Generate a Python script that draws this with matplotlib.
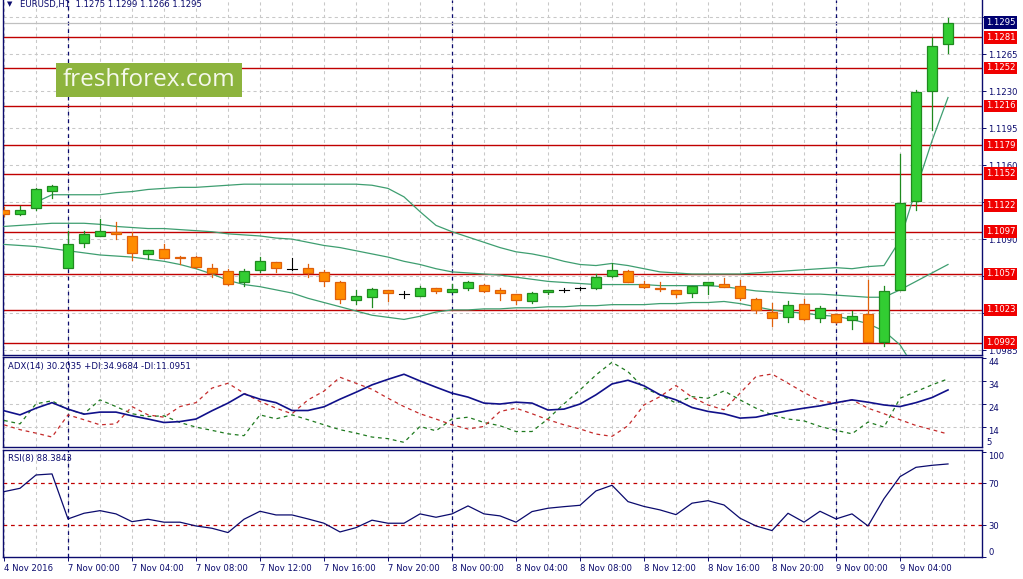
import matplotlib
matplotlib.use("Agg")
import matplotlib.pyplot as plt
import matplotlib.transforms as mtransforms
from matplotlib.patches import Rectangle

# EURUSD H1, bars numbered from 7 Nov 00:00 (bar 0)
bars = list(range(-4, 56))
opens = [1.1118, 1.1114, 1.1119, 1.1136, 1.1063, 1.1086, 1.1093, 1.1097, 1.1093, 1.1076,
         1.1081, 1.1073, 1.1073, 1.1063, 1.1060, 1.1049, 1.1061, 1.1068, 1.1062, 1.1063,
         1.1059, 1.1049, 1.1032, 1.1035, 1.1042, 1.1038, 1.1036, 1.1044, 1.1040, 1.1044,
         1.1047, 1.1042, 1.1038, 1.1031, 1.1040, 1.1042, 1.1044, 1.1044, 1.1055, 1.1060,
         1.1048, 1.1044, 1.1042, 1.1039, 1.1047, 1.1048, 1.1046, 1.1033, 1.1021, 1.1016,
         1.1029, 1.1015, 1.1019, 1.1013, 1.1019, 1.0993, 1.1042, 1.1126, 1.1230, 1.1275]
highs = [1.1120, 1.1121, 1.1138, 1.1141, 1.1098, 1.1098, 1.1109, 1.1106, 1.1097, 1.1080,
         1.1085, 1.1074, 1.1074, 1.1066, 1.1062, 1.1062, 1.1073, 1.1068, 1.1072, 1.1066,
         1.1061, 1.1050, 1.1042, 1.1044, 1.1042, 1.1041, 1.1046, 1.1044, 1.1048, 1.1050,
         1.1048, 1.1044, 1.1038, 1.1040, 1.1042, 1.1044, 1.1045, 1.1057, 1.1067, 1.1061,
         1.1050, 1.1049, 1.1042, 1.1046, 1.1049, 1.1053, 1.1051, 1.1034, 1.1030, 1.1031,
         1.1033, 1.1027, 1.1019, 1.1022, 1.1051, 1.1046, 1.1171, 1.1231, 1.1280, 1.1299]
lows = [1.1112, 1.1113, 1.1118, 1.1129, 1.1063, 1.1083, 1.1093, 1.1090, 1.1070, 1.1071,
        1.1072, 1.1066, 1.1063, 1.1054, 1.1047, 1.1046, 1.1059, 1.1059, 1.1061, 1.1054,
        1.1046, 1.1030, 1.1029, 1.1026, 1.1031, 1.1034, 1.1036, 1.1039, 1.1040, 1.1042,
        1.1040, 1.1032, 1.1029, 1.1030, 1.1038, 1.1040, 1.1042, 1.1043, 1.1054, 1.1049,
        1.1044, 1.1041, 1.1035, 1.1035, 1.1038, 1.1045, 1.1032, 1.1020, 1.1008, 1.1012,
        1.1013, 1.1012, 1.1011, 1.1005, 1.0993, 1.0989, 1.1042, 1.1118, 1.1193, 1.1266]
closes = [1.1114, 1.1118, 1.1137, 1.1140, 1.1085, 1.1095, 1.1098, 1.1095, 1.1077, 1.1080,
          1.1072, 1.1072, 1.1064, 1.1058, 1.1048, 1.1060, 1.1069, 1.1063, 1.1062, 1.1058,
          1.1050, 1.1033, 1.1036, 1.1043, 1.1039, 1.1038, 1.1044, 1.1041, 1.1043, 1.1049,
          1.1041, 1.1039, 1.1032, 1.1039, 1.1042, 1.1042, 1.1044, 1.1054, 1.1061, 1.1049,
          1.1045, 1.1043, 1.1038, 1.1046, 1.1049, 1.1045, 1.1034, 1.1023, 1.1015, 1.1028,
          1.1014, 1.1025, 1.1012, 1.1017, 1.0993, 1.1041, 1.1124, 1.1229, 1.1273, 1.1295]

# Bollinger bands
bb_upper_bars = list(range(-2, 56))
bb_upper = [1.1125, 1.1132, 1.1132, 1.1132, 1.1132, 1.1134, 1.1135, 1.1137, 1.1138, 1.1139,
            1.1139, 1.1140, 1.1141, 1.1142, 1.1142, 1.1142, 1.1142, 1.1142, 1.1142, 1.1142,
            1.1142, 1.1141, 1.1138, 1.1130, 1.1116, 1.1103, 1.1097, 1.1092, 1.1087, 1.1082,
            1.1078, 1.1076, 1.1073, 1.1069, 1.1066, 1.1065, 1.1067, 1.1065, 1.1062, 1.1059,
            1.1058, 1.1057, 1.1057, 1.1057, 1.1057, 1.1058, 1.1059, 1.1060, 1.1061, 1.1062,
            1.1063, 1.1062, 1.1064, 1.1065, 1.1089, 1.1137, 1.1183, 1.1224]
bb_middle = [1.1102, 1.1103, 1.1104, 1.1105, 1.1105, 1.1105, 1.1104, 1.1102, 1.1101, 1.1100,
             1.1100, 1.1099, 1.1098, 1.1097, 1.1095, 1.1094, 1.1093, 1.1091, 1.1090, 1.1087,
             1.1084, 1.1082, 1.1079, 1.1076, 1.1073, 1.1069, 1.1066, 1.1062, 1.1059, 1.1058,
             1.1057, 1.1056, 1.1054, 1.1052, 1.1050, 1.1049, 1.1048, 1.1047, 1.1047, 1.1047,
             1.1047, 1.1046, 1.1046, 1.1046, 1.1046, 1.1045, 1.1043, 1.1041, 1.1040, 1.1039,
             1.1038, 1.1038, 1.1037, 1.1036, 1.1035, 1.1035, 1.1042, 1.1050, 1.1058, 1.1066]
bb_lower = [1.1085, 1.1084, 1.1083, 1.1081, 1.1079, 1.1077, 1.1075, 1.1074, 1.1073, 1.1071,
            1.1069, 1.1066, 1.1062, 1.1057, 1.1051, 1.1047, 1.1045, 1.1042, 1.1039, 1.1034,
            1.1030, 1.1026, 1.1022, 1.1018, 1.1016, 1.1014, 1.1017, 1.1021, 1.1023, 1.1023,
            1.1024, 1.1024, 1.1025, 1.1025, 1.1026, 1.1026, 1.1027, 1.1027, 1.1028, 1.1028,
            1.1028, 1.1029, 1.1029, 1.1030, 1.1030, 1.1031, 1.1029, 1.1026, 1.1023, 1.1021,
            1.1020, 1.1018, 1.1017, 1.1014, 1.1010, 1.1003, 1.0990, 1.0966, 1.0938, 1.0909]

levels = [1.1281, 1.1252, 1.1216, 1.1179, 1.1152, 1.1122, 1.1097, 1.1057, 1.1023, 1.0992]
last_price = 1.1295
price_ticks = [1.0985, 1.1020, 1.1055, 1.1090, 1.1125, 1.1160, 1.1195, 1.1230, 1.1265, 1.1300]
# these scale labels sit under the level / price boxes on the chart
hidden_ticks = [1.1020, 1.1055, 1.1125, 1.1300]

adx = [21.2, 19.4, 22.3, 24.7, 21.9, 19.7, 20.6, 20.6, 19.0, 17.6,
       16.1, 16.5, 17.6, 21.2, 24.5, 28.5, 26.2, 24.7, 21.3, 21.3,
       22.9, 26.2, 29.2, 32.4, 34.8, 37.0, 34.1, 31.4, 28.8, 27.1,
       24.5, 24.1, 24.9, 24.5, 21.5, 21.9, 24.1, 28.1, 32.8, 34.4,
       32.0, 28.1, 25.9, 22.6, 20.9, 19.9, 18.0, 18.4, 19.9, 21.2,
       22.3, 23.3, 24.7, 25.9, 24.9, 23.7, 23.0, 24.7, 26.9, 30.2]
plus_di = [17.0, 15.5, 24.2, 25.5, 21.6, 19.9, 25.9, 23.0, 19.9, 18.7,
           19.0, 16.1, 14.1, 12.7, 11.2, 10.4, 19.4, 17.7, 19.4, 17.3,
           15.1, 13.0, 11.5, 9.8, 9.1, 7.5, 14.4, 12.5, 17.6, 18.4,
           16.1, 14.7, 12.2, 12.2, 17.7, 24.2, 30.2, 36.7, 42.2, 38.1,
           31.0, 28.1, 24.5, 27.3, 26.6, 29.8, 25.9, 22.3, 19.4, 17.6,
           16.8, 14.4, 12.7, 11.2, 16.3, 14.1, 26.6, 29.5, 32.4, 35.0]
minus_di = [15.1, 13.0, 11.5, 9.8, 19.4, 17.3, 15.1, 15.5, 23.0, 19.4,
            18.4, 23.0, 24.7, 31.0, 33.1, 28.8, 25.2, 22.3, 19.9, 25.9,
            29.7, 35.7, 33.1, 30.5, 26.6, 23.0, 19.9, 17.6, 15.1, 13.3,
            14.4, 20.9, 22.3, 19.9, 17.3, 15.1, 13.3, 11.1, 10.1, 14.7,
            23.7, 27.3, 32.1, 27.1, 23.7, 21.6, 28.8, 36.0, 37.1, 33.1,
            29.1, 25.5, 24.5, 25.9, 22.3, 19.9, 17.3, 14.8, 13.0, 11.1]
rsi = [62.0, 65.2, 77.9, 78.9, 36.0, 41.4, 43.9, 40.8, 33.4, 35.7,
       32.9, 32.9, 29.3, 27.1, 23.0, 35.7, 43.3, 39.8, 39.8, 36.0,
       31.9, 23.6, 27.7, 34.8, 31.9, 31.9, 40.8, 37.6, 40.8, 48.4,
       40.8, 38.9, 32.9, 43.0, 46.2, 47.7, 49.0, 62.7, 68.1, 52.5,
       47.9, 44.6, 40.1, 51.0, 53.4, 49.3, 36.7, 29.3, 24.9, 41.4,
       32.9, 43.3, 36.0, 40.8, 29.3, 55.3, 76.3, 85.2, 87.1, 88.4]

date_ticks = [-4, 0, 4, 8, 12, 16, 20, 24, 28, 32, 36, 40, 44, 48, 52]
date_labels = ["4 Nov 2016", "7 Nov 00:00", "7 Nov 04:00", "7 Nov 08:00", "7 Nov 12:00",
               "7 Nov 16:00", "7 Nov 20:00", "8 Nov 00:00", "8 Nov 04:00", "8 Nov 08:00",
               "8 Nov 12:00", "8 Nov 16:00", "8 Nov 20:00", "9 Nov 00:00", "9 Nov 04:00"]
day_starts = [0, 24, 48]

NAVY = "#0b0b6e"
GRID = "#c8c8c8"
LVL = "#c00000"
BB = "#3e9e70"
FS = 6.1

W, H = 1023, 579
fig = plt.figure(figsize=(W / 100, H / 100), dpi=100)
fig.patch.set_facecolor("white")


def px_axes(x0, y0, x1, y1):
    return fig.add_axes([x0 / W, 1 - y1 / H, (x1 - x0) / W, (y1 - y0) / H])


ax = px_axes(3, 0, 982, 355)
ax_adx = px_axes(3, 357, 982, 447)
ax_rsi = px_axes(3, 450, 982, 556.7)

for a in (ax, ax_adx, ax_rsi):
    a.set_xlim(-4.0625, 57.125)
    for s in a.spines.values():
        s.set_color(NAVY)
        s.set_linewidth(1.0)
    a.set_xticks([])
    a.yaxis.tick_right()
    a.tick_params(axis="y", length=3, width=0.7, color=NAVY, labelcolor=NAVY,
                  labelsize=FS, pad=1.5)
    for g in range(-4, 58, 2):
        a.axvline(g, color=GRID, lw=0.75, ls=(0, (3, 3)), zorder=0)
    for d in day_starts:
        a.axvline(d, color=NAVY, lw=0.9, ls=(0, (3, 3)), zorder=1)

ax.spines["top"].set_visible(False)

# ---- main price panel
ax.set_ylim(1.098034, 1.13163)
ax.set_yticks(price_ticks)
ax.set_yticklabels(["" if t in hidden_ticks else f"{t:.4f}" for t in price_ticks])
for t in price_ticks:
    ax.axhline(t, color=GRID, lw=0.75, ls=(0, (3, 3)), zorder=0)

ax.axhline(last_price, color="#c0c0c0", lw=0.9, zorder=1)
for lv in levels:
    ax.axhline(lv, color=LVL, lw=1.0, zorder=2)

ax.plot(bb_upper_bars, bb_upper, color=BB, lw=0.9, zorder=3)
ax.plot(bars, bb_middle, color=BB, lw=0.9, zorder=3)
ax.plot(bars, bb_lower, color=BB, lw=0.9, zorder=3)

bw = 0.33
for b, o, h, l, c in zip(bars, opens, highs, lows, closes):
    if o == c:
        ax.plot([b, b], [l, h], color="black", lw=0.8, zorder=4)
        ax.plot([b - bw, b + bw], [o, o], color="black", lw=0.8, zorder=4)
        continue
    if c > o:
        fc, ec = "#32cd32", "#1f8a1f"
    else:
        fc, ec = "#ff8c00", "#e0600a"
    ax.plot([b, b], [l, h], color=ec, lw=0.9, zorder=4)
    ax.add_patch(Rectangle((b - bw, min(o, c)), 2 * bw, abs(c - o),
                           facecolor=fc, edgecolor=ec, lw=0.9, zorder=5))

tr = mtransforms.blended_transform_factory(ax.transAxes, ax.transData)
lab_x = (986 - 3) / 979
for lv in levels:
    ax.text(lab_x, lv, f"{lv:.4f}", transform=tr, color="white", fontsize=FS,
            va="center", ha="left", clip_on=False, zorder=10,
            bbox=dict(boxstyle="square,pad=0.22", fc="#f00000", ec="none"))
ax.text(lab_x, last_price, f"{last_price:.4f}", transform=tr, color="white", fontsize=FS,
        va="center", ha="left", clip_on=False, zorder=10,
        bbox=dict(boxstyle="square,pad=0.22", fc="#000070", ec="none"))

# ---- ADX panel
ax_adx.set_ylim(5.49, 44.47)
ax_adx.set_yticks([14, 24, 34, 44])
for lbl in ax_adx.get_yticklabels():
    lbl.set_va("top")
for t in (14, 24, 34):
    ax_adx.axhline(t, color=GRID, lw=0.75, ls=(0, (3, 3)), zorder=0)
ax_adx.text(lab_x, 5.49, "5", transform=mtransforms.blended_transform_factory(
    ax_adx.transAxes, ax_adx.transData), color=NAVY, fontsize=FS, va="bottom",
    ha="left", clip_on=False)
ax_adx.plot(bars, plus_di, color="#1f7a1f", lw=0.9, ls=(0, (3, 3)), zorder=3)
ax_adx.plot(bars, minus_di, color="#c42a2a", lw=0.9, ls=(0, (3, 3)), zorder=3)
ax_adx.plot(bars, adx, color="#10108a", lw=1.2, zorder=4)

# ---- RSI panel
ax_rsi.set_ylim(0.1, 101.7)
ax_rsi.set_yticks([0, 30, 70, 100])
rl = ax_rsi.get_yticklabels()
rl[0].set_va("bottom")
rl[3].set_va("top")
for t in (30, 70):
    ax_rsi.axhline(t, color=LVL, lw=0.9, ls=(0, (3, 3)), zorder=2)
ax_rsi.plot(bars, rsi, color=NAVY, lw=0.9, zorder=3)

ax_rsi.set_xticks(date_ticks)
ax_rsi.set_xticklabels(date_labels, ha="left")
ax_rsi.tick_params(axis="x", length=3, width=0.7, color=NAVY, labelcolor=NAVY,
                   labelsize=FS, pad=2)


# ---- texts
def ftext(x, y, s, **kw):
    fig.text(x / W, 1 - y / H, s, **kw)


ftext(7, 4.5, "\u25bc", color=NAVY, fontsize=5, va="center")
ftext(20, 4.5, "EURUSD,H1  1.1275 1.1299 1.1266 1.1295", color=NAVY, fontsize=FS, va="center")
ftext(8, 366, "ADX(14) 30.2035 +DI:34.9684 -DI:11.0951", color=NAVY, fontsize=FS, va="center")
ftext(8, 459, "RSI(8) 88.3843", color=NAVY, fontsize=FS, va="center")

fig.patches.append(Rectangle((56 / W, 1 - 96.7 / H), (241.7 - 56) / W, 34 / H,
                             transform=fig.transFigure, facecolor="#8db43e",
                             edgecolor="none", zorder=20))
ftext(149, 80, "freshforex.com", color="#f5f8ec", fontsize=17.5, family="Open Sans",
      ha="center", va="center", zorder=21)

fig.savefig("out.png", dpi=100, facecolor="white")
